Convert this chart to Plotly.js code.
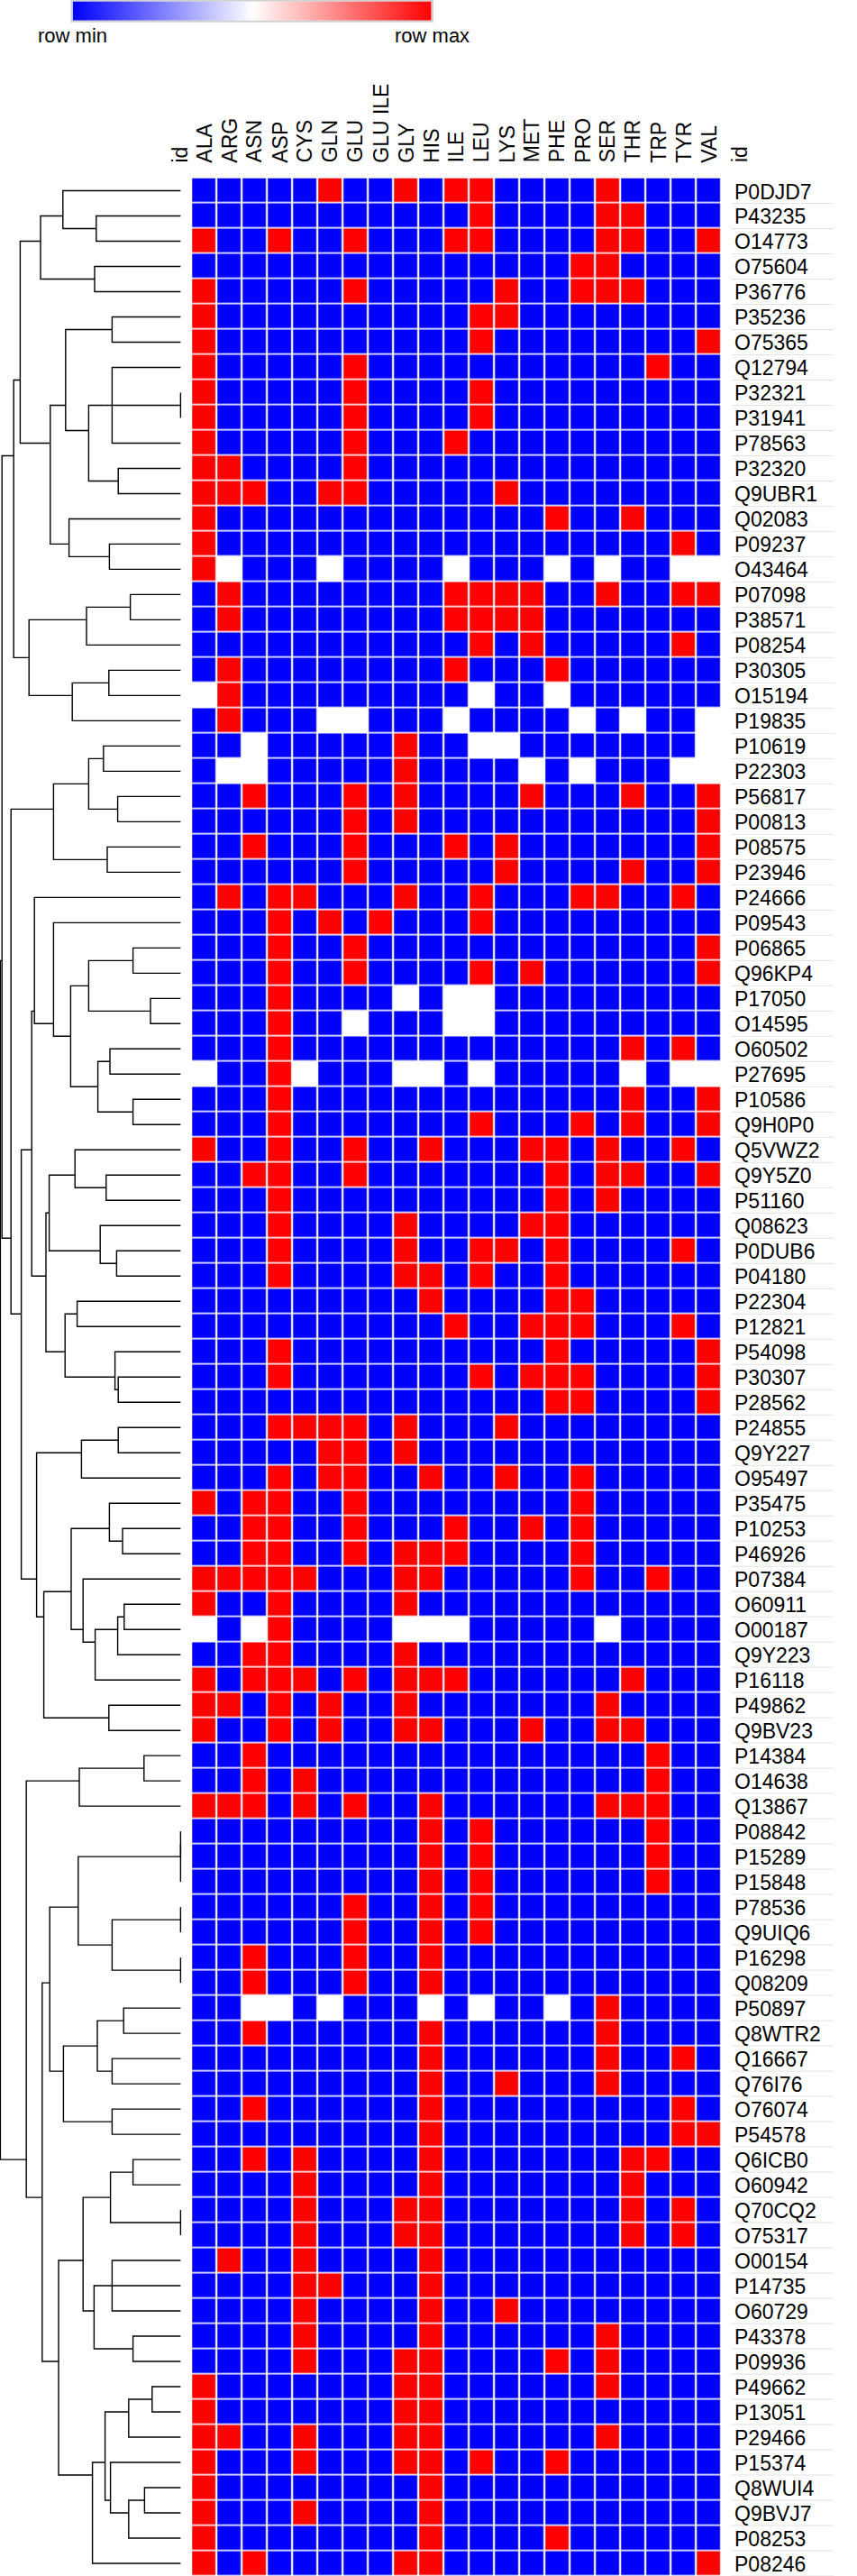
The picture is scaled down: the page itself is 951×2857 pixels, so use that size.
<!DOCTYPE html>
<html><head><meta charset="utf-8">
<script src="https://cdn.plot.ly/plotly-3.0.1.min.js"></script>
<style>html,body{margin:0;padding:0;background:#fff}#chart{width:951px;height:2857px}</style>
</head><body><div id="chart"></div>
<script>
const n = null;
const columns = ["ALA","ARG","ASN","ASP","CYS","GLN","GLU","GLU ILE","GLY","HIS","ILE","LEU","LYS","MET","PHE","PRO","SER","THR","TRP","TYR","VAL"];
const rowIds = ["P0DJD7","P43235","O14773","O75604","P36776","P35236","O75365","Q12794","P32321","P31941","P78563","P32320","Q9UBR1","Q02083","P09237","O43464","P07098","P38571","P08254","P30305","O15194","P19835","P10619","P22303","P56817","P00813","P08575","P23946","P24666","P09543","P06865","Q96KP4","P17050","O14595","O60502","P27695","P10586","Q9H0P0","Q5VWZ2","Q9Y5Z0","P51160","Q08623","P0DUB6","P04180","P22304","P12821","P54098","P30307","P28562","P24855","Q9Y227","O95497","P35475","P10253","P46926","P07384","O60911","O00187","Q9Y223","P16118","P49862","Q9BV23","P14384","O14638","Q13867","P08842","P15289","P15848","P78536","Q9UIQ6","P16298","Q08209","P50897","Q8WTR2","Q16667","Q76I76","O76074","P54578","Q6ICB0","O60942","Q70CQ2","O75317","O00154","P14735","O60729","P43378","P09936","P49662","P13051","P29466","P15374","Q8WUI4","Q9BVJ7","P08253","P08246"];
// row-normalised values: 0 = row min, 1 = row max, null = missing
const values = [
[0,0,0,0,0,1,0,0,1,0,1,1,0,0,0,0,1,0,0,0,0],
[0,0,0,0,0,0,0,0,0,0,0,1,0,0,0,0,1,1,0,0,0],
[1,0,0,1,0,0,1,0,0,0,1,1,0,0,0,0,1,1,0,0,1],
[0,0,0,0,0,0,0,0,0,0,0,0,0,0,0,1,1,0,0,0,0],
[1,0,0,0,0,0,1,0,0,0,0,0,1,0,0,1,1,1,0,0,0],
[1,0,0,0,0,0,0,0,0,0,0,1,1,0,0,0,0,0,0,0,0],
[1,0,0,0,0,0,0,0,0,0,0,1,0,0,0,0,0,0,0,0,1],
[1,0,0,0,0,0,1,0,0,0,0,0,0,0,0,0,0,0,1,0,0],
[1,0,0,0,0,0,1,0,0,0,0,1,0,0,0,0,0,0,0,0,0],
[1,0,0,0,0,0,1,0,0,0,0,1,0,0,0,0,0,0,0,0,0],
[1,0,0,0,0,0,1,0,0,0,1,0,0,0,0,0,0,0,0,0,0],
[1,1,0,0,0,0,1,0,0,0,0,0,0,0,0,0,0,0,0,0,0],
[1,1,1,0,0,1,1,0,0,0,0,0,1,0,0,0,0,0,0,0,0],
[1,0,0,0,0,0,0,0,0,0,0,0,0,0,1,0,0,1,0,0,0],
[1,0,0,0,0,0,0,0,0,0,0,0,0,0,0,0,0,0,0,1,0],
[1,n,0,0,0,n,0,0,0,0,n,0,0,0,n,0,n,0,0,n,n],
[0,1,0,0,0,0,0,0,0,0,1,1,1,1,0,0,1,0,0,1,1],
[0,1,0,0,0,0,0,0,0,0,1,1,1,1,0,0,0,0,0,0,0],
[0,0,0,0,0,0,0,0,0,0,0,1,0,1,0,0,0,0,0,1,0],
[0,1,0,0,0,0,0,0,0,0,1,0,0,0,1,0,0,0,0,0,0],
[n,1,0,0,0,0,0,0,0,0,0,n,0,0,n,0,0,0,0,0,0],
[0,1,0,0,0,n,n,0,0,0,n,0,0,0,0,n,0,n,0,0,n],
[0,0,n,0,0,0,0,0,1,0,0,n,n,0,0,0,0,0,0,0,n],
[0,n,n,0,0,0,0,0,1,0,0,0,0,n,0,n,0,0,0,n,n],
[0,0,1,0,0,0,1,0,1,0,0,0,0,1,0,0,0,1,0,0,1],
[0,0,0,0,0,0,1,0,1,0,0,0,0,0,0,0,0,0,0,0,1],
[0,0,1,0,0,0,1,0,0,0,1,0,1,0,0,0,0,0,0,0,1],
[0,0,0,0,0,0,1,0,0,0,0,0,1,0,0,0,0,1,0,0,1],
[0,1,0,1,1,0,0,0,1,0,0,1,0,0,0,1,1,0,0,1,0],
[0,0,0,1,0,1,0,1,0,0,0,1,0,0,0,0,0,0,0,0,0],
[0,0,0,1,0,0,1,0,0,0,0,0,0,0,0,0,0,0,0,0,1],
[0,0,0,1,0,0,1,0,0,0,0,1,0,1,0,0,0,0,0,0,1],
[0,0,0,1,0,0,0,0,n,0,n,n,0,0,0,0,0,0,0,0,0],
[0,0,0,1,0,0,n,0,0,0,n,n,0,0,0,0,0,0,0,0,0],
[0,0,0,1,0,0,0,0,0,0,0,0,0,0,0,0,0,1,0,1,0],
[n,0,0,1,n,0,0,0,n,n,0,n,0,0,0,0,0,n,0,n,n],
[0,0,0,1,0,0,0,0,0,0,0,0,0,0,0,0,0,1,0,0,1],
[0,0,0,1,0,0,0,0,0,0,0,1,0,0,0,1,0,1,0,0,1],
[1,0,0,1,0,0,1,0,0,1,0,0,0,1,1,0,1,0,0,1,0],
[0,0,1,1,0,0,1,0,0,0,0,0,0,0,1,0,1,1,0,0,1],
[0,0,0,1,0,0,0,0,0,0,0,0,0,0,1,0,1,0,0,0,0],
[0,0,0,1,0,0,0,0,1,0,0,0,0,1,1,0,0,0,0,0,0],
[0,0,0,1,0,0,0,0,1,0,0,1,1,0,1,0,0,0,0,1,0],
[0,0,0,1,0,0,0,0,1,1,0,1,0,0,1,0,0,0,0,0,0],
[0,0,0,0,0,0,0,0,0,1,0,0,0,0,1,1,0,0,0,0,0],
[0,0,0,0,0,0,0,0,0,0,1,0,0,1,1,1,0,0,0,1,0],
[0,0,0,1,0,0,0,0,0,0,0,0,0,0,1,0,0,0,0,0,1],
[0,0,0,1,0,0,0,0,0,0,0,1,0,1,1,1,0,0,0,0,1],
[0,0,0,0,0,0,0,0,0,0,0,0,0,0,1,1,0,0,0,0,1],
[0,0,0,1,1,1,1,0,1,0,0,0,1,0,0,0,0,0,0,0,0],
[0,0,0,0,0,1,1,0,1,0,0,0,0,0,0,0,0,0,0,0,0],
[0,0,0,1,0,1,1,0,0,1,0,0,1,0,0,1,0,0,0,0,0],
[1,0,1,1,0,0,1,0,0,0,0,0,0,0,0,1,0,0,0,0,0],
[0,0,1,1,0,0,1,0,0,0,1,0,0,1,0,1,0,0,0,0,0],
[0,0,1,1,0,0,1,0,1,1,1,0,0,0,0,1,0,0,0,0,0],
[1,1,1,1,1,0,0,0,1,1,0,0,0,0,0,1,0,0,1,0,0],
[1,0,0,1,0,0,0,0,1,0,0,0,0,0,0,0,0,0,0,0,0],
[n,0,n,1,0,0,0,0,n,n,n,0,0,0,0,0,n,0,0,0,0],
[0,0,1,1,0,0,0,0,1,0,0,0,0,0,0,0,0,0,0,0,0],
[1,0,1,1,1,0,1,0,1,1,1,0,0,0,0,0,0,1,0,0,0],
[1,1,0,1,0,1,0,0,1,0,0,0,0,0,0,0,1,0,0,0,0],
[1,0,0,1,0,1,0,0,1,1,0,0,0,1,0,0,1,1,0,0,0],
[0,0,1,0,0,0,0,0,0,0,0,0,0,0,0,0,0,0,1,0,0],
[0,0,1,0,1,0,0,0,0,0,0,0,0,0,0,0,0,0,1,0,0],
[1,1,1,0,1,0,1,0,0,1,0,0,0,0,0,0,1,1,1,0,0],
[0,0,0,0,0,0,0,0,0,1,0,1,0,0,0,0,0,0,1,0,0],
[0,0,0,0,0,0,0,0,0,1,0,1,0,0,0,0,0,0,1,0,0],
[0,0,0,0,0,0,0,0,0,1,0,1,0,0,0,0,0,0,1,0,0],
[0,0,0,0,0,0,1,0,0,1,0,1,0,0,0,0,0,0,0,0,0],
[0,0,0,0,0,0,1,0,0,1,0,1,0,0,0,0,0,0,0,0,0],
[0,0,1,0,0,0,1,0,0,1,0,0,0,0,0,0,0,0,0,0,0],
[0,0,1,0,0,0,1,0,0,1,0,0,0,0,0,0,0,0,0,0,0],
[0,0,n,n,0,n,0,0,0,n,0,n,0,0,n,0,1,0,0,0,0],
[0,0,1,0,0,0,0,0,0,1,0,0,0,0,0,0,1,0,0,0,0],
[0,0,0,0,0,0,0,0,0,1,0,0,0,0,0,0,1,0,0,1,0],
[0,0,0,0,0,0,0,0,0,1,0,0,1,0,0,0,1,0,0,0,0],
[0,0,1,0,0,0,0,0,0,1,0,0,0,0,0,0,0,0,0,1,0],
[0,0,0,0,0,0,0,0,0,1,0,0,0,0,0,0,0,0,0,1,1],
[0,0,1,0,1,0,0,0,0,1,0,0,0,0,0,0,0,1,1,0,0],
[0,0,0,0,1,0,0,0,0,1,0,0,0,0,0,0,0,1,0,0,0],
[0,0,0,0,1,0,0,0,1,1,0,0,0,0,0,0,0,1,0,1,0],
[0,0,0,0,1,0,0,0,1,1,0,0,0,0,0,0,0,1,0,1,0],
[0,1,0,0,1,0,0,0,0,1,0,0,0,0,0,0,0,0,0,0,0],
[0,0,0,0,1,1,0,0,0,1,0,0,0,0,0,0,0,0,0,0,0],
[0,0,0,0,1,0,0,0,0,1,0,0,1,0,0,0,0,0,0,0,0],
[0,0,0,0,1,0,0,0,0,1,0,0,0,0,0,0,1,0,0,0,0],
[0,0,0,0,1,0,0,0,1,1,0,0,0,0,1,0,1,0,0,0,0],
[1,0,0,0,0,0,0,0,1,1,0,0,0,0,0,0,1,0,0,0,0],
[1,0,0,0,0,0,0,0,1,1,0,0,0,0,0,0,0,0,0,0,0],
[1,1,0,0,1,0,0,0,1,1,0,0,0,0,0,0,1,0,0,0,0],
[1,0,0,0,1,0,0,0,1,1,0,1,0,0,1,0,0,0,0,0,0],
[1,0,0,0,0,0,0,0,0,1,0,0,0,0,0,0,0,0,0,0,0],
[1,0,0,0,1,0,0,0,0,1,0,0,0,0,0,0,0,0,0,0,0],
[1,0,0,0,0,0,0,0,0,1,0,0,0,0,1,0,0,0,0,0,0],
[1,0,1,0,0,0,0,0,1,1,0,0,0,0,0,0,0,0,0,0,1]
];
// row dendrogram linkage: [childA, childB, height]; ids < 95 are rows, merge k creates id 95+k
const linkage = [
[1,2,0.468],[0,95,0.653],[3,4,0.477],[96,97,0.777],[5,6,0.380],[8,9,0],[7,10,0.380],[101,100,0.425],
[11,12,0.346],[102,103,0.510],[99,104,0.638],[14,15,0.395],[13,106,0.619],[105,107,0.723],[98,108,0.890],
[16,17,0.279],[110,18,0.522],[19,20,0.398],[112,21,0.601],[111,113,0.841],[109,114,0.926],
[22,23,0.428],[24,25,0.349],[116,117,0.510],[26,27,0.407],[118,119,0.705],
[30,31,0.264],[32,33,0.167],[121,122,0.510],[34,35,0.392],[36,37,0.264],[124,125,0.459],[123,126,0.610],
[29,127,0.705],[28,128,0.811],
[39,40,0.413],[38,130,0.586],[42,43,0.355],[41,132,0.446],[131,133,0.729],
[44,45,0.574],[47,48,0.346],[46,136,0.364],[135,137,0.641],[134,138,0.747],[129,139,0.826],
[49,50,0.346],[141,51,0.550],[53,54,0.322],[52,143,0.395],[56,57,0.313],[145,58,0.349],[146,59,0.474],
[55,147,0.541],[144,148,0.607],[60,61,0.398],[149,150,0.759],[142,151,0.799],[140,152,0.884],
[120,153,0.941],[115,154,0.991],
[62,63,0.203],[156,64,0.562],[65,66,0],[158,67,0],[68,69,0],[70,71,0],[160,161,0.380],[159,162,0.568],
[72,73,0.316],[74,75,0.380],[164,165,0.462],[76,77,0.380],[166,167,0.650],[163,168,0.726],
[78,79,0.264],[80,81,0],[170,171,0.389],[82,84,0.380],[173,83,0.431],[85,86,0.264],[174,175,0.480],
[172,176,0.541],[87,88,0.158],[89,178,0.288],[91,92,0.200],[93,180,0.288],[90,181,0.389],[179,182,0.419],
[94,183,0.489],[177,184,0.677],[169,185,0.768],[157,186,0.856],[155,187,1.0]
];
const legendValues = [0, 0.5, 1];
const legendLabels = ["row min", "row max"];

const W = 951, H = 2857;
const FONT = "Liberation Sans, Arial, Helvetica, sans-serif";
const px = v => v / W, py = v => 1 - v / H;
const colorscale = [[0, "#0000ff"], [0.5, "#ffffff"], [1, "#ff0000"]];

// dendrogram segments computed from linkage
const N = rowIds.length;
const pos = [], hgt = [], cnt = [];
for (let i = 0; i < N; i++) { pos.push(i); hgt.push(0); cnt.push(1); }
const dx = [], dy = [];
linkage.forEach(([a, b, h]) => {
  dx.push(hgt[a], h, h, hgt[b], null);
  dy.push(pos[a], pos[a], pos[b], pos[b], null);
  const c = cnt[a] + cnt[b];
  pos.push((pos[a] * cnt[a] + pos[b] * cnt[b]) / c);
  hgt.push(h); cnt.push(c);
});

const rowIdx = rowIds.map((_, i) => i);
const colIdx = columns.map((_, i) => i);

const traces = [
  {type: "heatmap", z: values, x: colIdx, y: rowIdx, xaxis: "x", yaxis: "y",
   colorscale: colorscale, zmin: 0, zmax: 1, showscale: false, xgap: 2.2, ygap: 1.6, hoverinfo: "skip"},
  {type: "scatter", mode: "lines", x: dx, y: dy, xaxis: "x2", yaxis: "y",
   line: {color: "#000000", width: 1.4}, hoverinfo: "skip"},
  {type: "heatmap", z: [legendValues], x: legendValues, y: [0], xaxis: "x3", yaxis: "y3",
   colorscale: colorscale, zmin: 0, zmax: 1, zsmooth: "best", showscale: false, hoverinfo: "skip"}
];

const annotations = [];
rowIds.forEach((id, i) => annotations.push({
  text: id, xref: "paper", yref: "y", x: px(812.5), y: i, xanchor: "left", yanchor: "middle", yshift: -1,
  showarrow: false, font: {family: FONT, size: 23, color: "#000"}}));
columns.forEach((c, i) => annotations.push({
  text: c, xref: "x", yref: "paper", x: i, y: py(182.5), xanchor: "center", yanchor: "bottom",
  textangle: -90, showarrow: false, font: {family: FONT, size: 23, color: "#000"}}));
annotations.push({text: "id", xref: "paper", yref: "paper", x: px(199), y: py(182.5), xanchor: "center", yanchor: "bottom",
  textangle: -90, showarrow: false, font: {family: FONT, size: 23, color: "#000"}});
annotations.push({text: "id", xref: "paper", yref: "paper", x: px(820.5), y: py(182.5), xanchor: "center", yanchor: "bottom",
  textangle: -90, showarrow: false, font: {family: FONT, size: 23, color: "#000"}});
legendLabels.forEach((t, i) => annotations.push({
  text: t, xref: "x3", yref: "paper", x: legendValues[i * 2], y: py(39.3), xanchor: "center", yanchor: "middle",
  showarrow: false, font: {family: FONT, size: 22, color: "#000"}}));

const shapes = [];
rowIds.forEach((_, i) => shapes.push({
  type: "line", xref: "paper", yref: "y", x0: px(812), x1: px(925), y0: i + 0.5, y1: i + 0.5,
  line: {color: "#e2e2e2", width: 1}}));
shapes.push({type: "rect", xref: "paper", yref: "paper", x0: px(79.5), x1: px(480), y0: py(0.5), y1: py(23.8),
  line: {color: "#d0d0d0", width: 2}, fillcolor: "rgba(0,0,0,0)"});

const layout = {
  width: W, height: H, margin: {l: 0, r: 0, t: 0, b: 0, pad: 0},
  paper_bgcolor: "#ffffff", plot_bgcolor: "#ffffff", showlegend: false,
  xaxis: {domain: [px(212.2), px(800.3)], range: [-0.5, 20.5], visible: false, fixedrange: true},
  xaxis2: {domain: [0, px(205)], range: [1.002, -0.023], visible: false, fixedrange: true},
  yaxis: {domain: [0, py(197.5)], range: [94.5, -0.5], visible: false, fixedrange: true},
  xaxis3: {domain: [px(80.5), px(479)], range: [0, 1], visible: false, anchor: "y3"},
  yaxis3: {domain: [py(22.8), py(1.2)], range: [-0.5, 0.5], visible: false, anchor: "x3"},
  annotations: annotations, shapes: shapes, font: {family: FONT}
};
Plotly.newPlot("chart", traces, layout, {displayModeBar: false, staticPlot: true});
</script></body></html>
